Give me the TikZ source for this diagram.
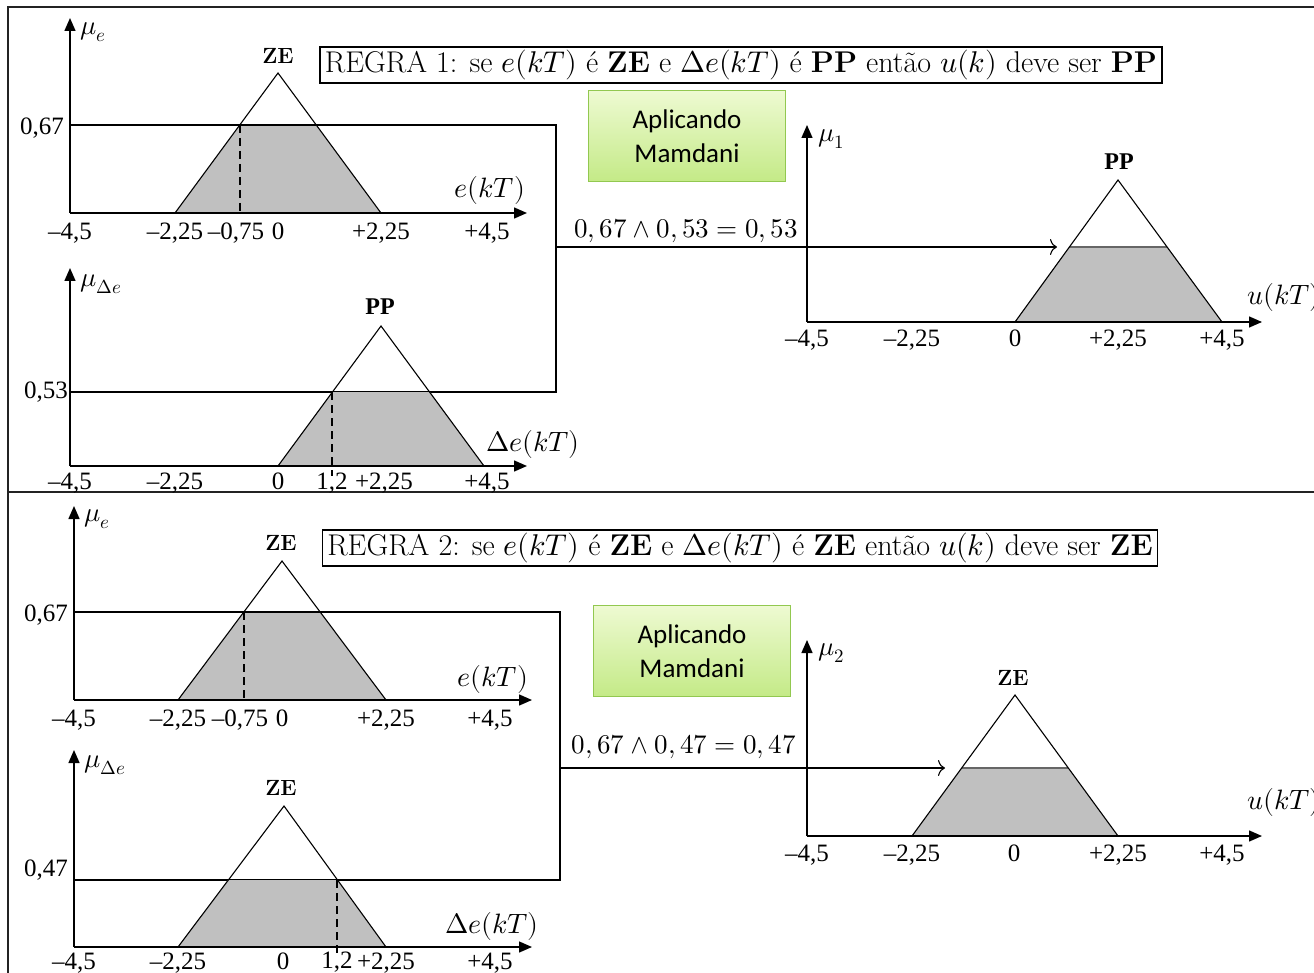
\documentclass[tikz,border=0pt]{standalone}
\usepackage{fontspec}
\usepackage{unicode-math}
\setmathfont{Latin Modern Math}
\newfontfamily\timesf{Liberation Serif}
\newfontfamily\carlito{Carlito}
\usetikzlibrary{arrows.meta}
\definecolor{shadegray}{RGB}{192,192,192}
\definecolor{frameblack}{RGB}{35,35,35}
\definecolor{mborder}{RGB}{146,200,80}
\definecolor{mtop}{RGB}{238,250,210}
\definecolor{mbot}{RGB}{196,234,135}
\tikzset{
  frame/.style={line width=2pt, draw=frameblack},
  axis/.style={line width=1.4pt, -{Triangle[length=13pt,width=11pt]}},
  mf/.style={line width=1.1pt},
  cutline/.style={line width=1.1pt},
  dashline/.style={line width=1.1pt, dash pattern=on 8pt off 5pt},
  flow/.style={line width=1.1pt, -{To[length=7pt,width=16pt]}},
  tick/.style={font=\timesf\fontsize{25}{25}\selectfont, inner sep=0pt, anchor=base, yshift=-8.5pt},
  ylab/.style={font=\timesf\fontsize{25}{25}\selectfont, inner sep=0pt, anchor=base east, yshift=-8.5pt},
  mulab/.style={font=\fontsize{27}{27}\selectfont, inner sep=0pt, anchor=west},
  varlab/.style={font=\fontsize{28}{28}\selectfont, inner sep=0pt},
  setlab/.style={font=\fontsize{22}{22}\selectfont\bfseries, inner sep=0pt},
  setlabt/.style={font=\timesf\fontsize{24}{24}\selectfont\bfseries, inner sep=0pt},
  rulebox/.style={draw, line width=1.2pt, font=\fontsize{30}{30}\selectfont, inner xsep=5pt, inner ysep=3pt},
  mamdani/.style={draw=mborder, line width=1.5pt, top color=mtop, bottom color=mbot, minimum width=197pt, minimum height=91pt, align=center, font=\carlito\fontsize{27}{34}\selectfont},
  mathlab/.style={font=\fontsize{27}{27}\selectfont, inner sep=0pt}
}
\begin{document}
\begin{tikzpicture}[x=1pt,y=-1pt]
\useasboundingbox (0,0) rectangle (1314,973);
% frame
\draw[frame] (1314,7) -- (8,7) -- (8,973);
\draw[frame] (8,492) -- (1314,492);

% ================= RULE 1 =================
% panel mu_e
\fill[shadegray] (175,213) -- (240,125) -- (316,125) -- (381,213) -- cycle;
\draw[mf] (175,213) -- (278,73) -- (381,213);
\coordinate (j1a) at (556,125);
\coordinate (j1b) at (556,392);
\coordinate (j1m) at (556,247);
\draw[cutline] (70,125) -- (j1a) -- (j1b) -- (70,392);
\draw[dashline] (240,125) -- (240,213);
\draw[axis] (70,213) -- (527,213);
\draw[axis] (70,213) -- (70,18);
\node[mulab] at (80,32) {$\mu_e$};
\node[setlab] (ze1) at (278,56) {ZE};
\node[varlab] at (490,191) {$e(kT)$};
\node[ylab] at (64,126) {0,67};
\node[tick] at (70,231) {–4,5};
\node[tick] at (175,231) {–2,25};
\node[tick] at (236,231) {–0,75};
\node[tick] at (278,231) {0};
\node[tick] at (381,231) {+2,25};
\node[tick] at (487,231) {+4,5};

% panel mu_delta e
\fill[shadegray] (278,466) -- (332,392) -- (430,392) -- (484,466) -- cycle;
\draw[mf] (278,466) -- (381,326) -- (484,466);
\draw[dashline] (332,392) -- (332,476);
\draw[axis] (70,466) -- (527,466);
\draw[axis] (70,466) -- (70,268);
\node[mulab] at (80,284) {$\mu_{\Delta e}$};
\node[setlabt] (pp1) at (380,307) {PP};
\node[varlab] at (533,444) {$\Delta e(kT)$};
\node[ylab] at (68,390) {0,53};
\node[tick] at (70,481) {–4,5};
\node[tick] at (175,481) {–2,25};
\node[tick] at (278,481) {0};
\node[tick] at (332,481) {1,2};
\node[tick] at (384,481) {+2,25};
\node[tick] at (487,481) {+4,5};

% rule text
\node[rulebox] (r1) at (741,65) {REGRA 1: se $e(kT)$ é \textbf{ZE} e $\Delta e(kT)$ é \textbf{PP} então $u(k)$ deve ser \textbf{PP}};
\node[mamdani] (m1) at (687,136) {Aplicando\\Mamdani};

% output 1
\fill[shadegray] (1015,322) -- (1069,247) -- (1167,247) -- (1222,322) -- cycle;
\draw[line width=1.1pt, draw=black!60] (1069,247) -- (1167,247);
\draw[mf] (1015,322) -- (1118,180) -- (1222,322);
\coordinate (o1) at (1057,247);
\draw[flow] (j1m) -- (o1);
\node[mathlab] at (686,231) {$0,67\wedge0,53=0,53$};
\draw[axis] (807,322) -- (1262,322);
\draw[axis] (807,322) -- (807,125);
\node[mulab] at (818,139) {$\mu_1$};
\node[setlabt] (pp2) at (1119,162) {PP};
\node[varlab] at (1284,298) {$u(kT)$};
\node[tick] at (807,338) {–4,5};
\node[tick] at (912,338) {–2,25};
\node[tick] at (1015,338) {0};
\node[tick] at (1118,338) {+2,25};
\node[tick] at (1222,338) {+4,5};

% ================= RULE 2 =================
\fill[shadegray] (178,700) -- (244,612) -- (320,612) -- (386,700) -- cycle;
\draw[mf] (178,700) -- (282,561) -- (386,700);
\coordinate (j2a) at (560,612);
\coordinate (j2b) at (560,880);
\coordinate (j2m) at (560,768);
\draw[cutline] (74,612) -- (j2a) -- (j2b) -- (74,880);
\draw[dashline] (244,612) -- (244,700);
\draw[axis] (74,700) -- (532,700);
\draw[axis] (74,700) -- (74,506);
\node[mulab] at (84,519) {$\mu_e$};
\node[setlab] (ze2) at (281,543) {ZE};
\node[varlab] at (493,679) {$e(kT)$};
\node[ylab] at (68,613) {0,67};
\node[tick] at (74,718) {–4,5};
\node[tick] at (178,718) {–2,25};
\node[tick] at (240,718) {–0,75};
\node[tick] at (282,718) {0};
\node[tick] at (386,718) {+2,25};
\node[tick] at (490,718) {+4,5};

\fill[shadegray] (178,947) -- (228,880) -- (337,880) -- (386,947) -- cycle;
\draw[mf] (178,947) -- (284,806) -- (386,947);
\draw[dashline] (337,880) -- (337,956);
\draw[axis] (74,947) -- (532,947);
\draw[axis] (74,947) -- (74,750);
\node[mulab] at (84,765) {$\mu_{\Delta e}$};
\node[setlab] (ze3) at (281,788) {ZE};
\node[varlab] at (492,926) {$\Delta e(kT)$};
\node[ylab] at (68,868) {0,47};
\node[tick] at (74,961) {–4,5};
\node[tick] at (178,961) {–2,25};
\node[tick] at (283,961) {0};
\node[tick] at (337,960) {1,2};
\node[tick] at (386,961) {+2,25};
\node[tick] at (490,961) {+4,5};

\node[rulebox] (r2) at (740,548) {REGRA 2: se $e(kT)$ é \textbf{ZE} e $\Delta e(kT)$ é \textbf{ZE} então $u(k)$ deve ser \textbf{ZE}};
\node[mamdani] (m2) at (692,651) {Aplicando\\Mamdani};

\fill[shadegray] (912,836) -- (962,768) -- (1068,768) -- (1118,836) -- cycle;
\draw[line width=1.1pt, draw=black!60] (962,768) -- (1068,768);
\draw[mf] (912,836) -- (1015,695) -- (1118,836);
\coordinate (o2) at (945,768);
\draw[flow] (j2m) -- (o2);
\node[mathlab] at (684,747) {$0,67\wedge0,47=0,47$};
\draw[axis] (807,836) -- (1262,836);
\draw[axis] (807,836) -- (807,640);
\node[mulab] at (818,653) {$\mu_2$};
\node[setlab] (ze4) at (1013,678) {ZE};
\node[varlab] at (1284,802) {$u(kT)$};
\node[tick] at (807,853) {–4,5};
\node[tick] at (912,853) {–2,25};
\node[tick] at (1014,853) {0};
\node[tick] at (1118,853) {+2,25};
\node[tick] at (1222,853) {+4,5};
\end{tikzpicture}
\end{document}
